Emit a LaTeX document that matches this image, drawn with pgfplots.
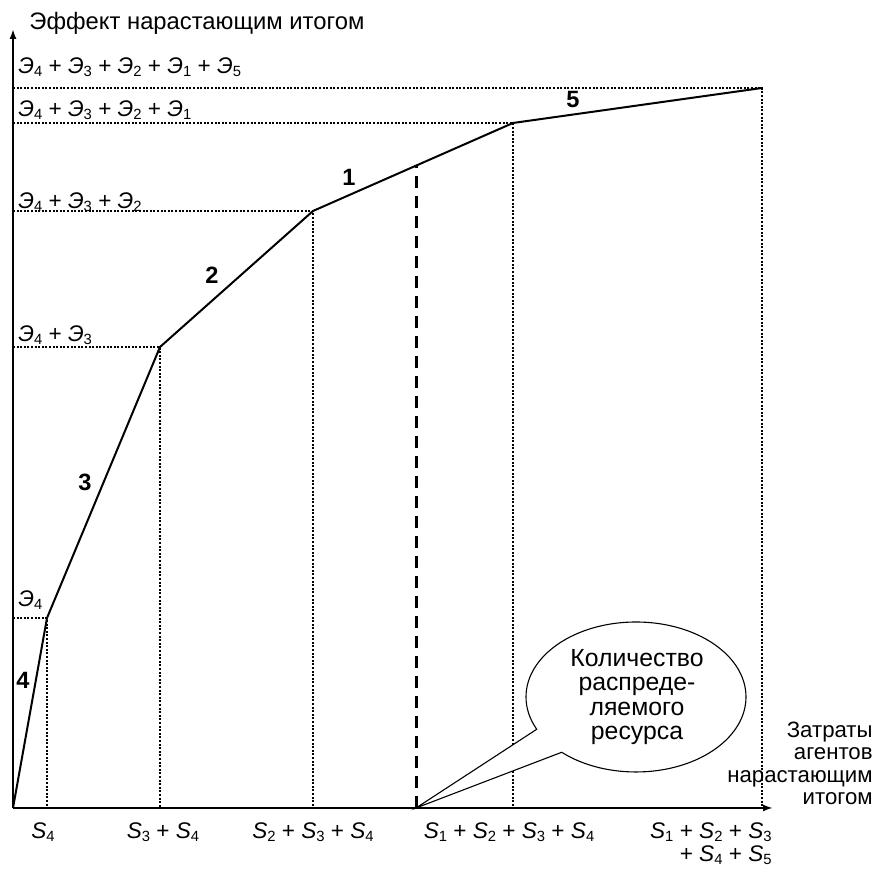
\documentclass[border=0pt]{standalone}
\usepackage{fontspec}
\setmainfont{Liberation Sans}
\usepackage{pgfplots}
\pgfplotsset{compat=1.18}
\usetikzlibrary{arrows.meta,shapes.callouts}
\newcommand{\sub}[1]{\raisebox{-0.14em}{\fontsize{7.4}{7.4}\selectfont #1}}
\newcommand{\E}[1]{\textit{Э}\sub{#1}}
\newcommand{\Sv}[1]{\textit{S}\sub{#1}}
\begin{document}
\fontsize{11.3}{13.5}\selectfont
\begin{tikzpicture}
\begin{axis}[
  x=0.5pt, y=0.5pt,
  xmin=0, xmax=760, ymin=0, ymax=779,
  axis lines=left,
  axis line style={line width=1pt, -{Latex[length=5pt,width=3.5pt]}},
  xtick=\empty, ytick=\empty,
  clip=false,
]
% dotted guide lines
\addplot[line width=0.6pt, dash pattern=on 1pt off 0.8pt] coordinates {(0,190)(34,190)(34,0)};
\addplot[line width=0.6pt, dash pattern=on 1pt off 0.8pt] coordinates {(0,461)(147,461)(147,0)};
\addplot[line width=0.6pt, dash pattern=on 1pt off 0.8pt] coordinates {(0,597)(300,597)(300,0)};
\addplot[line width=0.6pt, dash pattern=on 1pt off 0.8pt] coordinates {(0,685)(500,685)(500,0)};
\addplot[line width=0.6pt, dash pattern=on 1pt off 0.8pt] coordinates {(0,720)(749,720)(749,0)};
% resource amount
\addplot[line width=1.5pt, dash pattern=on 6pt off 4pt] coordinates {(403,0)(403,642)};
% cumulative effect curve
\addplot[line width=1pt, black] coordinates {(0,0)(34,190)(147,461)(300,597)(500,685)(749,720)};

% y labels
\node[anchor=west, inner sep=0] at (axis cs:5,741) {\E4 + \E3 + \E2 + \E1 + \E5};
\node[anchor=west, inner sep=0] at (axis cs:5,698) {\E4 + \E3 + \E2 + \E1};
\node[anchor=west, inner sep=0] at (axis cs:5,606) {\E4 + \E3 + \E2};
\node[anchor=west, inner sep=0] at (axis cs:5,473) {\E4 + \E3};
\node[anchor=west, inner sep=0] at (axis cs:5,208) {\E4};
\node[anchor=west, inner sep=0, font=\fontsize{11.9}{13}\selectfont] at (axis cs:16,785) {Эффект нарастающим итогом};

% x labels
\node[anchor=north, inner sep=0] at (axis cs:30,-14) {\Sv4};
\node[anchor=north, inner sep=0] at (axis cs:150,-14) {\Sv3 + \Sv4};
\node[anchor=north, inner sep=0] at (axis cs:300,-14) {\Sv2 + \Sv3 + \Sv4};
\node[anchor=north, inner sep=0] at (axis cs:496,-14) {\Sv1 + \Sv2 + \Sv3 + \Sv4};
\node[anchor=north east, inner sep=0, align=right, font=\fontsize{11.3}{11.5}\selectfont] at (axis cs:759,-14) {\Sv1 + \Sv2 + \Sv3\\+ \Sv4 + \Sv5};
\node[anchor=east, inner sep=0, align=right, font=\fontsize{11.1}{11.2}\selectfont] at (axis cs:860,44.5) {Затраты\\агентов\\нарастающим\\итогом};

% segment numbers
\node[font=\fontsize{11.8}{12}\selectfont\bfseries] at (axis cs:10,128) {4};
\node[font=\fontsize{11.8}{12}\selectfont\bfseries] at (axis cs:72,326) {3};
\node[font=\fontsize{11.8}{12}\selectfont\bfseries] at (axis cs:199,533) {2};
\node[font=\fontsize{11.8}{12}\selectfont\bfseries] at (axis cs:336,631) {1};
\node[font=\fontsize{11.8}{12}\selectfont\bfseries] at (axis cs:560,708) {5};

% callout
\node[ellipse callout, draw, fill=white, line width=0.55pt, minimum width=110pt, minimum height=75pt, inner sep=0pt,
      callout pointer arc=22, callout absolute pointer={(axis cs:403,0)}] at (axis cs:623,111) {};
\node[align=center, inner sep=0, font=\fontsize{12.4}{12.2}\selectfont] at (axis cs:624,111) {Количество\\распреде-\\ляемого\\ресурса};

\coordinate (bbl) at (axis cs:-13,-62);
\coordinate (btr) at (axis cs:861,808);
\end{axis}
\pgfresetboundingbox
\path[use as bounding box] (bbl) rectangle (btr);
\end{tikzpicture}
\end{document}
